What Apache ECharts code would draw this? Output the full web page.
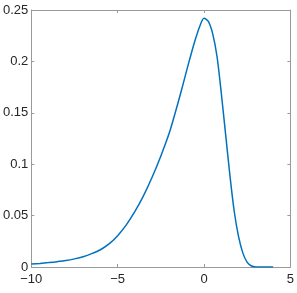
<!DOCTYPE html>
<html>
<head>
<meta charset="utf-8">
<script src="https://cdn.jsdelivr.net/npm/echarts@6/dist/echarts.min.js"></script>
<style>
html,body{margin:0;padding:0;background:#fff;}
#c{width:297px;height:293px;}
</style>
</head>
<body>
<div id="c"></div>
<script>
const xValues = [-10, -9.5, -9, -8.5, -8, -7.5, -7, -6.5, -6, -5.5, -5, -4.5, -4, -3.5, -3, -2.5, -2, -1.5, -1.25, -1, -0.75, -0.5, -0.25, 0, 0.25, 0.5, 0.75, 1, 1.25, 1.5, 1.75, 2, 2.25, 2.5, 2.75, 3, 3.5, 4];
const yValues = [0.0028, 0.0035, 0.0043, 0.0052, 0.0063, 0.0079, 0.0100, 0.0130, 0.0168, 0.0225, 0.0305, 0.0410, 0.0540, 0.0695, 0.0875, 0.1080, 0.1310, 0.1600, 0.1755, 0.1915, 0.2070, 0.2215, 0.2340, 0.2420, 0.2390, 0.2270, 0.2050, 0.1690, 0.1290, 0.0890, 0.0540, 0.0295, 0.0135, 0.0045, 0.0010, 0.0001, 0, 0];
const xTicks = [-10, -5, 0, 5];
const yTicks = [0, 0.05, 0.1, 0.15, 0.2, 0.25];

const axisColor = '#9a9a9a';
const labelColor = '#262626';
const font = 'Liberation Sans, Arial, Helvetica, sans-serif';
const fmt = v => String(v).replace('-', '\u2212');

const chart = echarts.init(document.getElementById('c'), null, {renderer: 'canvas'});
const baseAxis = {
  axisLine: {show: true, onZero: false, lineStyle: {color: axisColor, width: 1}},
  axisTick: {show: true, inside: true, length: 3, lineStyle: {color: axisColor}},
  splitLine: {show: false}
};
chart.setOption({
  animation: false,
  backgroundColor: '#fff',
  grid: {left: 29, right: 6, top: 10, bottom: 26, containLabel: false},
  xAxis: [
    Object.assign({}, baseAxis, {
      type: 'value', position: 'bottom', min: xTicks[0], max: xTicks[xTicks.length - 1], interval: 5,
      axisLabel: {color: labelColor, fontSize: 13, fontFamily: font, margin: 6, formatter: fmt}
    }),
    Object.assign({}, baseAxis, {
      type: 'value', position: 'top', min: xTicks[0], max: xTicks[xTicks.length - 1], interval: 5,
      axisLabel: {show: false}
    })
  ],
  yAxis: [
    Object.assign({}, baseAxis, {
      type: 'value', position: 'left', min: yTicks[0], max: yTicks[yTicks.length - 1], interval: 0.05,
      axisLabel: {color: labelColor, fontSize: 13, fontFamily: font, margin: 3, formatter: v => String(+v.toFixed(2))}
    }),
    Object.assign({}, baseAxis, {
      type: 'value', position: 'right', min: yTicks[0], max: yTicks[yTicks.length - 1], interval: 0.05,
      axisLabel: {show: false}
    })
  ],
  series: [{
    type: 'line',
    xAxisIndex: 0, yAxisIndex: 0,
    data: xValues.map((x, i) => [x, yValues[i]]),
    showSymbol: false,
    smooth: 0.3,
    lineStyle: {color: '#0072BD', width: 1.5},
    silent: true
  }]
});
</script>
</body>
</html>
